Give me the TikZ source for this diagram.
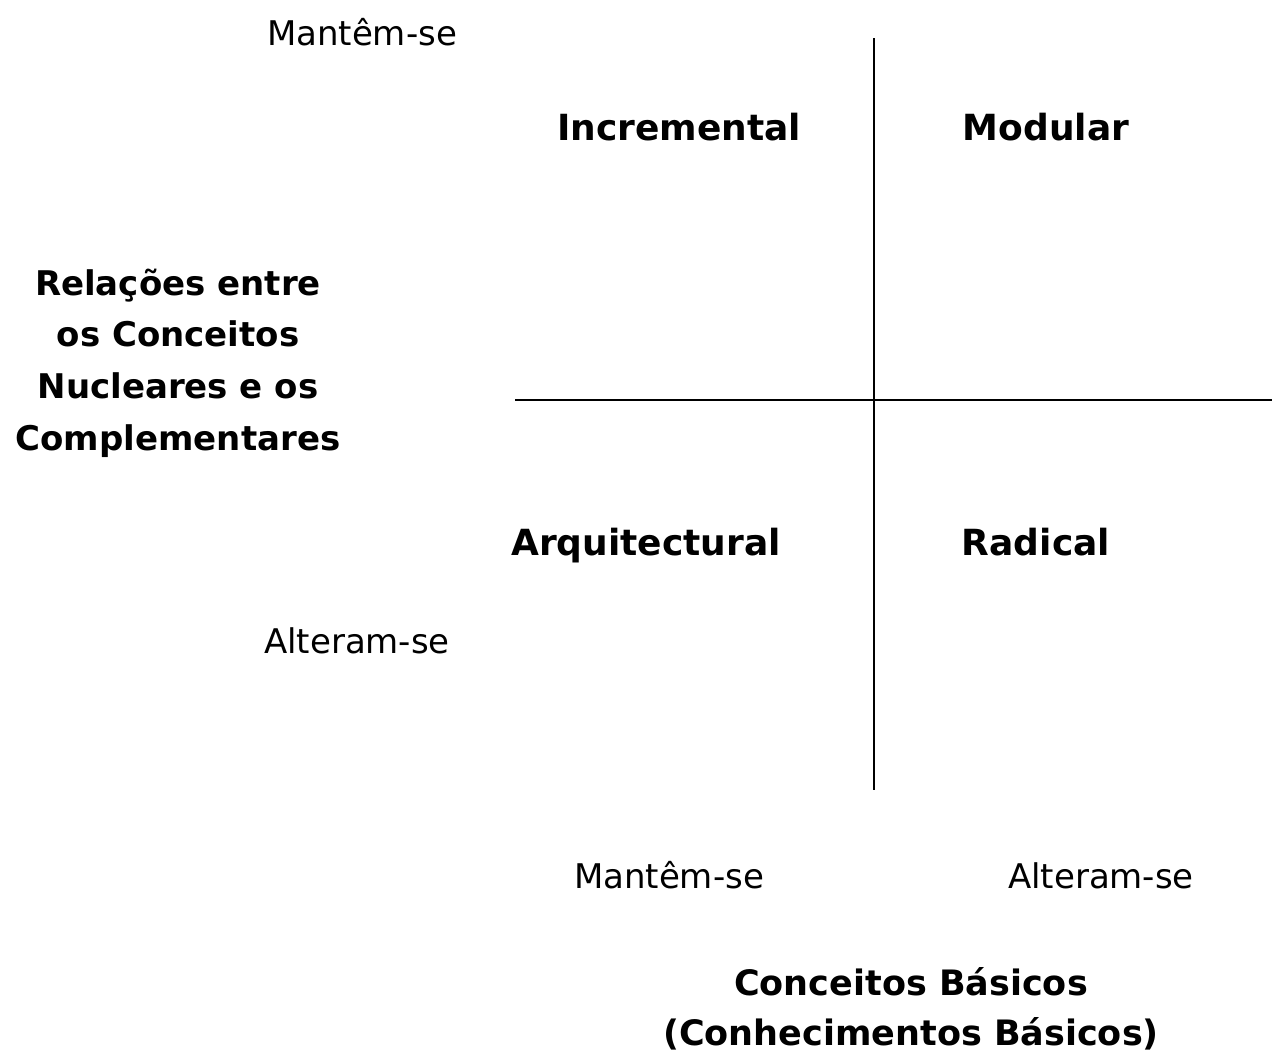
\documentclass[tikz,border=0pt]{standalone}
\usepackage{fontspec}
\setmainfont{DejaVu Sans}
\begin{document}
\begin{tikzpicture}[x=1pt,y=-1pt,
  axis/.style={line width=2.6pt,black},
  lab/.style={font=\fontsize{34}{40}\selectfont,inner sep=0pt,anchor=base},
  quad/.style={font=\fontsize{36}{40}\selectfont\bfseries,inner sep=0pt,anchor=base},
  title/.style={inner sep=0pt,align=center,anchor=center}]
\useasboundingbox (0,0) rectangle (1274,1055);
\coordinate (vtop) at (874,38);
\coordinate (vbot) at (874,790);
\coordinate (hl) at (515,400);
\coordinate (hr) at (1272,400);
\draw[axis] (vtop) -- (vbot);
\draw[axis] (hl) -- (hr);
\node[lab] (mt) at (362,45) {Mantêm-se};
\node[lab] (at) at (357,653) {Alteram-se};
\node[lab] (mb) at (669,888) {Mantêm-se};
\node[lab] (ab) at (1101,888) {Alteram-se};
\node[quad] (inc) at (679,140) {Incremental};
\node[quad] (mod) at (1046,140) {Modular};
\node[quad] (arq) at (646,555) {Arquitectural};
\node[quad] (rad) at (1036,555) {Radical};
\node[title,font=\fontsize{34}{51.7}\selectfont\bfseries] (rel) at (178,363) {Relações entre\\os Conceitos\\Nucleares e os\\Complementares};
\node[title,font=\fontsize{35}{50}\selectfont\bfseries] (cb) at (911,1009) {Conceitos Básicos\\(Conhecimentos Básicos)};
\end{tikzpicture}
\end{document}
